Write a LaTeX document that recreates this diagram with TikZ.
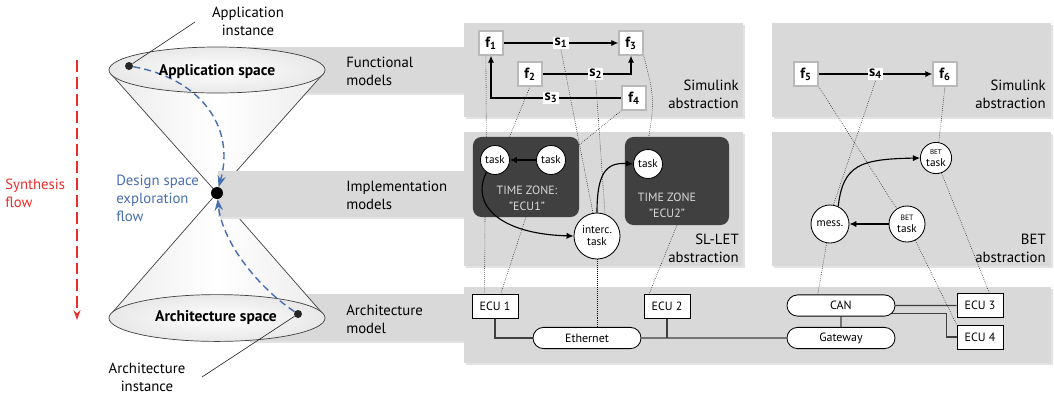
\documentclass[tikz,border=0pt]{standalone}
\usepackage{fontspec}
\setmainfont{PT Sans}
\usetikzlibrary{arrows.meta,shapes.misc}
\definecolor{panel}{RGB}{217,217,217}
\definecolor{zone}{RGB}{64,64,64}
\definecolor{dseblue}{RGB}{72,110,178}
\definecolor{synred}{RGB}{235,45,45}
\definecolor{bus}{RGB}{64,64,64}
\pgfdeclarelayer{bg}
\pgfdeclarelayer{wires}
\pgfsetlayers{bg,wires,main}
\begin{document}
\begin{tikzpicture}[x=0.025cm,y=-0.025cm,font=\fontsize{10.5}{12.8}\selectfont,
  lbl/.style={inner sep=0pt,align=left},
  rlbl/.style={inner sep=0pt,align=right,anchor=east},
  fbox/.style={draw=gray!55,line width=1pt,fill=white,minimum size=0.6cm,inner sep=0pt,font=\bfseries\fontsize{10.5}{12}\selectfont},
  slbl/.style={fill=white,inner sep=1pt,font=\bfseries\fontsize{10.5}{12}\selectfont},
  sig/.style={line width=0.8pt,-{Latex[length=5pt,width=4.5pt]}},
  tsk/.style={circle,draw,fill=white,line width=0.6pt,inner sep=0pt,minimum size=0.725cm,align=center,font=\fontsize{8}{8.5}\selectfont},
  zonebox/.style={fill=zone,rounded corners=6pt,inner sep=0pt,outer sep=0pt},
  zonetext/.style={text=gray!30,align=center,inner sep=0pt,font=\fontsize{8.5}{11.4}\selectfont},
  ecu/.style={draw,fill=white,line width=0.6pt,minimum width=1.15cm,minimum height=0.6cm,inner sep=0pt,font=\fontsize{8.5}{10}\selectfont},
  net/.style={rounded rectangle,draw,fill=white,line width=0.6pt,minimum width=2.7cm,minimum height=0.53cm,inner sep=0pt,font=\fontsize{8.5}{10}\selectfont},
  map/.style={densely dotted,line width=0.4pt},
  wire/.style={draw=bus,line width=1pt},
  cone/.style={draw=gray!50!black,line width=0.5pt},
  dse/.style={dseblue,line width=1pt,dash pattern=on 5pt off 3pt,-{Stealth[length=8pt,width=6pt]}},
  lead/.style={gray!30!black,line width=0.45pt},
  ]
\useasboundingbox (0,0) rectangle (1054,397);

\begin{pgfonlayer}{bg}
\foreach \xa/\ya/\xb/\yb in {248/47/464/93,248/294/464/341} {
  \fill[gray!22] (\xa+2,\ya+2) rectangle (\xb+2,\yb+2);
  \fill[panel] (\xa,\ya) rectangle (\xb,\yb);
}
\shade[left color=gray!15,right color=gray!15,middle color=white] (111,74) -- (217,193) -- (323,74) -- cycle;
\shade[left color=gray!15,right color=gray!15,middle color=white] (111,314) -- (217,193) -- (323,314) -- cycle;
\draw[cone] (111,74) -- (217,193) -- (323,74);
\draw[cone] (111,314) -- (217,193) -- (323,314);
\shade[inner color=white,outer color=gray!18] (217,70) ellipse [x radius=2.7cm,y radius=0.575cm];
\draw[cone] (217,70) ellipse [x radius=2.7cm,y radius=0.575cm];
\shade[inner color=white,outer color=gray!18] (217,318) ellipse [x radius=2.7cm,y radius=0.585cm];
\draw[cone] (217,318) ellipse [x radius=2.7cm,y radius=0.585cm];
\foreach \xa/\ya/\xb/\yb in {218/171/464/217,464/23/743/117,772/23/1051/117,464/132/743/266,772/132/1051/266,464/287/1051/363} {
  \fill[gray!22] (\xa+2,\ya+2) rectangle (\xb+2,\yb+2);
  \fill[panel] (\xa,\ya) rectangle (\xb,\yb);
}
\end{pgfonlayer}

\node[circle,fill=black,inner sep=0pt,minimum size=0.3cm] (apex) at (217,193) {};
\node[circle,fill=gray!30!black,inner sep=0pt,minimum size=0.2cm] (ai) at (129,66) {};
\node[circle,fill=gray!30!black,inner sep=0pt,minimum size=0.2cm] (ar) at (298,314) {};
\coordinate (aiend) at (195,22);
\coordinate (arend) at (202,377);
\coordinate (syntop) at (77,60);
\coordinate (synbot) at (77,320);
\node[font=\bfseries\fontsize{11}{13}\selectfont] at (217,72) {Application space};
\node[font=\bfseries\fontsize{11}{13}\selectfont] at (216,318) {Architecture space};
\node[align=center,inner sep=0pt] at (248,21) {Application\\instance};
\node[align=center,inner sep=0pt] at (147,377) {Architecture\\instance};
\node[lbl,anchor=west,text=synred] at (5,193) {Synthesis\\flow};
\node[lbl,anchor=west,text=dseblue] at (116,198) {Design space\\exploration\\flow};
\node[lbl,anchor=west] at (346,71) {Functional\\models};
\node[lbl,anchor=west] at (346,195) {Implementation\\models};
\node[lbl,anchor=west] at (346,319) {Architecture\\model};
\node[rlbl] at (739,94) {Simulink\\abstraction};
\node[rlbl] at (1046,94) {Simulink\\abstraction};
\node[rlbl] at (739,248) {SL-LET\\abstraction};
\node[rlbl] at (1046,248) {BET\\abstraction};

\node[fbox] (f1) at (491,43) {f\textsubscript{1}};
\node[fbox] (f3) at (631,43) {f\textsubscript{3}};
\node[fbox] (f2) at (530,74) {f\textsubscript{2}};
\node[fbox] (f4) at (634,98) {f\textsubscript{4}};
\node[fbox] (f5) at (806,74) {f\textsubscript{5}};
\node[fbox] (f6) at (945,74) {f\textsubscript{6}};

\node[zonebox,minimum width=2.65cm,minimum height=2cm] (z1) at (526,177) {};
\node[zonebox,minimum width=2.6cm,minimum height=2.2cm] (z2) at (677,181) {};
\node[zonetext] at (527,198) {TIME ZONE:\\"ECU1"};
\node[zonetext] at (667,205) {TIME ZONE\\"ECU2"};
\node[tsk] (tA) at (495,160) {task};
\node[tsk] (tB) at (551,160) {task};
\node[tsk] (tC) at (648,164) {task};
\node[tsk,minimum size=1.15cm] (ic) at (597,236) {interc.\\task};
\node[tsk,minimum size=0.78cm] (b1) at (936,158) {{\fontsize{5}{5}\selectfont BET}\\task};
\node[tsk,minimum size=0.9cm] (b2) at (907,224) {{\fontsize{5.5}{5.5}\selectfont BET}\\task};
\node[tsk,minimum size=0.95cm] (mess) at (830,224) {mess.};

\node[ecu] (e1) at (495,306) {ECU 1};
\node[ecu] (e2) at (667,306) {ECU 2};
\node[ecu] (e3) at (980,305.5) {ECU 3};
\node[ecu] (e4) at (980,337) {ECU 4};
\node[net] (eth) at (587,338) {Ethernet};
\node[net] (can) at (841,305.5) {CAN};
\node[net] (gw) at (841,338) {Gateway};

\begin{pgfonlayer}{wires}
\draw[synred,line width=1pt,dash pattern=on 8.5pt off 3.5pt,-{Stealth[length=7pt,width=5pt]}] (syntop) -- (synbot);
\draw[lead] (ai) -- (aiend);
\draw[lead] (ar) -- (arend);
\draw[dse] (ai) .. controls (198,78) and (236,125) .. (apex);
\draw[dse] (ar) .. controls (255,285) and (222,240) .. (apex);
\draw[map] (f1.-112) -- (tA.125);
\draw[map] (f2.south) -- (tA.50);
\draw[map] (f4.south west) -- (tB.15);
\draw[map] (f3.south east) .. controls (655,100) .. (tC.95);
\draw[map] ([xshift=0.3cm]z1.south west) -- ([xshift=0.325cm]e1.north west);
\draw[map] (z1.south) -- (e1.65);
\draw[map] (ic.south) -- (ic.south |- eth.north);
\draw[map] (z2.south) -- (e2.145);
\draw[map] (f5.south east) -- (b2.124);
\draw[map] (b2.-63) -- (e4.north west);
\draw[map] (mess.-100) -- ([xshift=-0.58cm]can.north);
\draw[map] (f6.south) -- (b1.80);
\draw[map] (b1.-70) -- (e3.53);
\draw[wire] (e1) |- (eth);
\draw[wire] (eth) -- (gw);
\draw[wire] (e2) -- (e2 |- eth);
\draw[wire] (can) -- (gw);
\draw[wire] (can) -- (e3);
\draw[wire] ([yshift=-0.2cm]can.center) -| ([xshift=-0.25cm]e4.west) -- (e4);
\end{pgfonlayer}

\draw[sig] (f1) -- node[slbl] (s1) {s\textsubscript{1}} (f3);
\draw[sig] (f2) -| node[slbl,pos=0.3] (s2) {s\textsubscript{2}} (f3);
\draw[sig] (f4) -| node[slbl,pos=0.27] (s3) {s\textsubscript{3}} (f1);
\draw[sig] (f5) -- node[slbl] (s4) {s\textsubscript{4}} (f6);
\begin{pgfonlayer}{wires}
\draw[map] (s1.south) -- (ic.100);
\draw[map] (s2.south) -- (ic.70);
\draw[map] (s4.south) -- (mess.80);
\end{pgfonlayer}
\draw[sig] (tB) -- (tA);
\draw[sig] (tA.235) .. controls (470,205) and (500,234) .. (ic.west);
\draw[sig] (ic.north) .. controls (597,175) and (605,162) .. (tC.west);
\draw[sig] (b2) -- (mess);
\draw[sig] (mess.65) .. controls (843,165) and (860,159) .. (b1.west);
\end{tikzpicture}
\end{document}
